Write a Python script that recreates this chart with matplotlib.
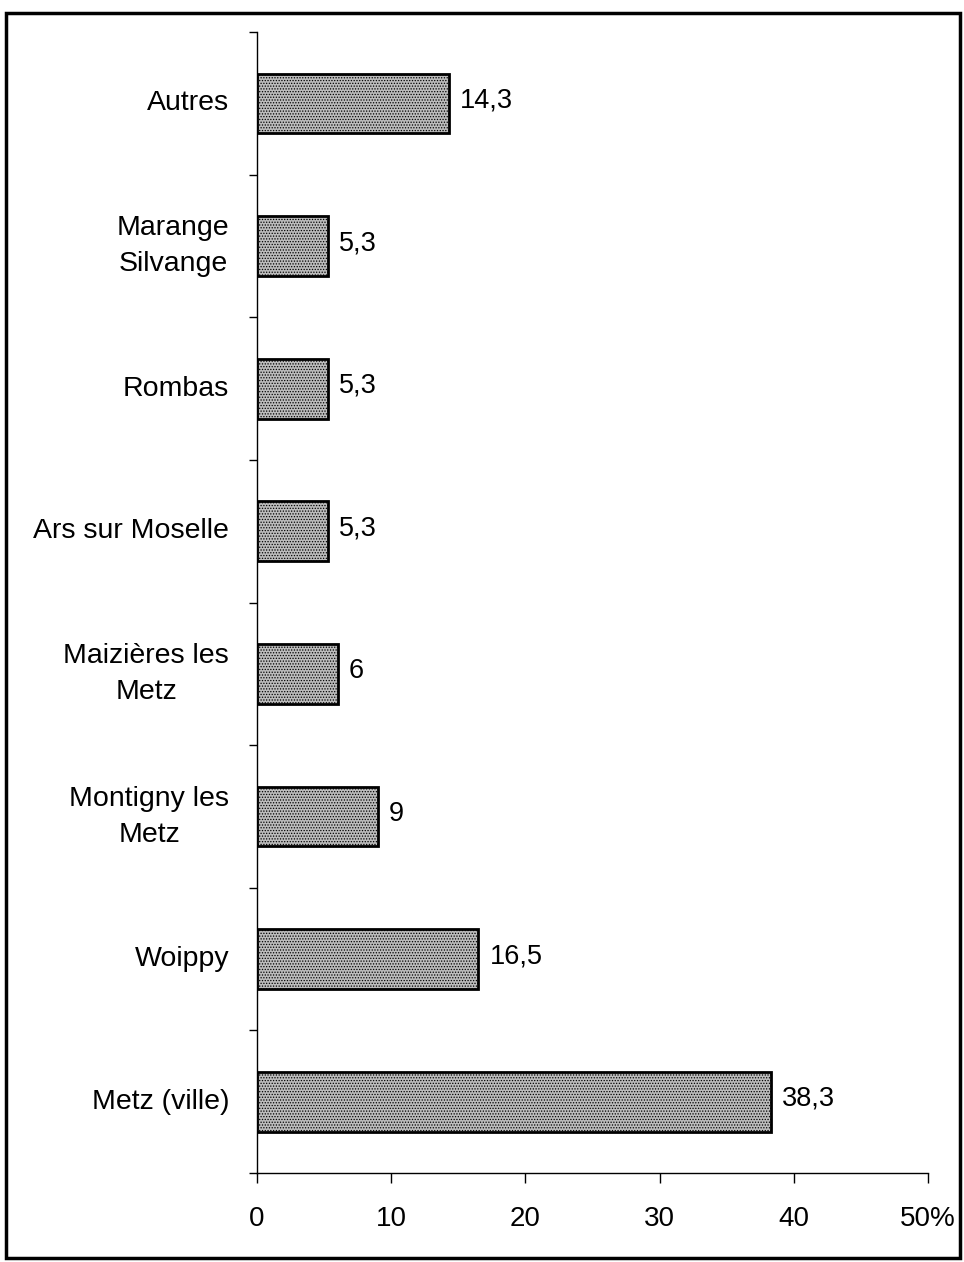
#Recreating the bar chart of the origin of people (percent by commune)
import numpy as np
import matplotlib.pyplot as plt
from matplotlib.patches import Rectangle

plt.rcParams['font.family'] = ['Liberation Sans', 'DejaVu Sans']
plt.rcParams['hatch.color'] = '#555555'
plt.rcParams['hatch.linewidth'] = 0.6

# data, bottom to top
communes = ['Metz (ville)', 'Woippy', 'Montigny les\nMetz', 'Maizières les\nMetz',
            'Ars sur Moselle', 'Rombas', 'Marange\nSilvange', 'Autres']
percent = [38.3, 16.5, 9, 6, 5.3, 5.3, 5.3, 14.3]
value_labels = ['38,3', '16,5', '9', '6', '5,3', '5,3', '5,3', '14,3']
x_ticks = [0, 10, 20, 30, 40, 50]
x_tick_labels = ['0', '10', '20', '30', '40', '50%']

fig = plt.figure(figsize=(9.64, 12.62), dpi=100)
ax = fig.add_axes([0.2666, 0.0705, 0.696, 0.904])

y = np.arange(len(communes))
ax.barh(y, percent, height=0.42, color='#bcbcbc', edgecolor='black',
        linewidth=2, hatch='......')

# values next to the bars
for yi, v, lab in zip(y, percent, value_labels):
    ax.annotate(lab, (v, yi), xytext=(8, 2), textcoords='offset points',
                va='center', ha='left', fontsize=19.5)

# category names left of the axis
for yi, name in zip(y, communes):
    ax.annotate(name, (0, yi), xytext=(-20, 0), textcoords='offset points',
                xycoords=('axes fraction', 'data'), va='center', ha='right',
                multialignment='center', fontsize=20.5, linespacing=1.5)

ax.set_xlim(0, 50)
ax.set_ylim(-0.5, len(communes) - 0.5)
ax.set_xticks(x_ticks)
ax.set_xticklabels(x_tick_labels, fontsize=20)
ax.set_yticks(np.arange(len(communes) + 1) - 0.5)
ax.set_yticklabels([])
ax.tick_params(axis='x', direction='out', length=7, width=1, pad=17)
ax.tick_params(axis='y', direction='out', length=6, width=1)

ax.spines['top'].set_visible(False)
ax.spines['right'].set_visible(False)
ax.spines['left'].set_linewidth(1)
ax.spines['bottom'].set_linewidth(1)

# frame around the whole figure
fig.patches.append(Rectangle((6 / 964, 4 / 1262), 954 / 964, 1245 / 1262,
                             transform=fig.transFigure, fill=False,
                             edgecolor='black', linewidth=2.5))

fig.savefig('out.png', dpi=100)
